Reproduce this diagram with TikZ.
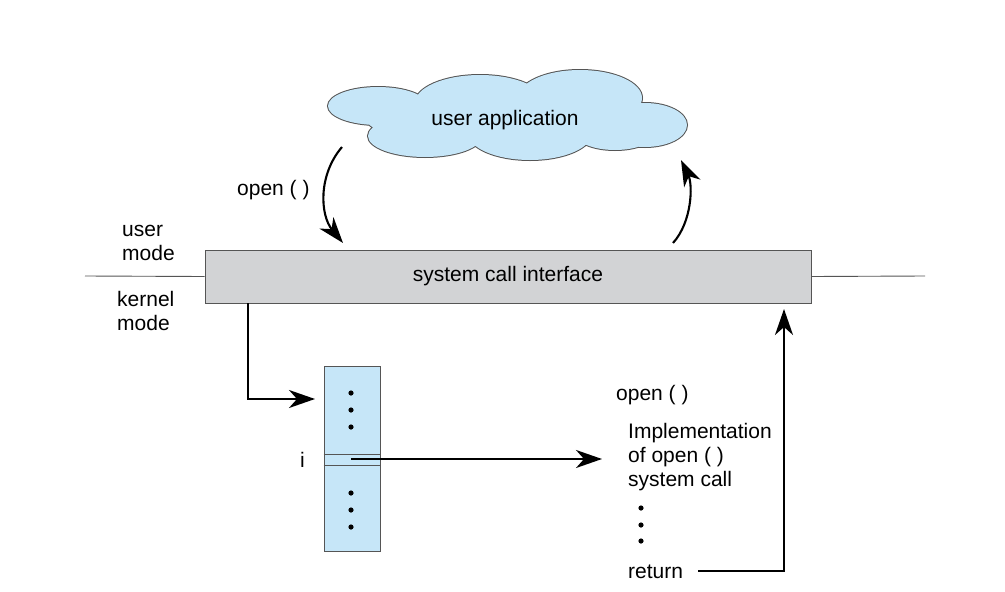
\documentclass[tikz,border=0pt]{standalone}
\usepackage{fontspec}
\setmainfont{Liberation Sans}
\usetikzlibrary{arrows.meta}
\definecolor{cloudblue}{HTML}{C6E6F8}
\definecolor{boxgray}{HTML}{D2D3D5}
\definecolor{edgegray}{HTML}{555555}
\begin{document}
\begin{tikzpicture}[x=1pt,y=-1pt,
  font=\fontsize{21}{24}\selectfont,
  arr/.style={-{Stealth[length=26pt,width=18pt,inset=8pt]}, line width=2.1pt},
  hline/.style={line width=0.9pt, draw=edgegray},
  lbl/.style={inner sep=0pt, anchor=base west, align=left},
  dotc/.style={fill=black}]
\useasboundingbox[fill=white] (0,0) rectangle (1005,592);

% cloud: outline of a union of ellipses
\def\cloudpath{
  (378,106) ellipse [x radius=50, y radius=19]
  (480,103) ellipse [x radius=65, y radius=28]
  (580,98) ellipse [x radius=62, y radius=28]
  (645,125) ellipse [x radius=42, y radius=22]
  (425,136) ellipse [x radius=57, y radius=21]
  (530,133) ellipse [x radius=62, y radius=27]
  (615,133) ellipse [x radius=40, y radius=17]
  (505,118) ellipse [x radius=140, y radius=28]
}
\draw[line width=2pt, draw=edgegray] \cloudpath;
\fill[cloudblue] \cloudpath;
\node[inner sep=0pt, anchor=base] (ua) at (505,125) {user application};

% system call interface
\node[draw=edgegray, line width=0.9pt, fill=boxgray, minimum width=606pt,
      minimum height=53pt, inner sep=0pt] (sci) at (508,276.5) {system call interface};
\coordinate (hl) at (85,276);
\coordinate (hr) at (925,276);
\draw[hline] (hl) -- (sci.west);
\draw[hline] (sci.east) -- (hr);

% mode labels (base = last line)
\node[lbl] (um) at (122,260) {user\\mode};
\node[lbl] (km) at (117,330) {kernel\\mode};

% open() call and return arrows
\node[lbl] (op1) at (237,195) {open ( )};
\coordinate (ca) at (342,147);
\coordinate (cb) at (343,243);
\draw[arr] (ca) .. controls (318,175) and (320,215) .. (cb);
\coordinate (ra) at (673,243);
\coordinate (rb) at (681,160);
\draw[arr] (ra) .. controls (692,222) and (693,185) .. (rb);

% table
\node[draw=edgegray, line width=0.9pt, fill=cloudblue, minimum width=56pt,
      minimum height=185pt, inner sep=0pt] (tab) at (352,458.5) {};
\draw[hline] (tab.west |- 0,454) -- (tab.east |- 0,454);
\draw[hline] (tab.west |- 0,465) -- (tab.east |- 0,465);
\foreach \yy in {393,410,427,493,510,527} \fill[dotc] (351,\yy) circle (2.6);
\node[lbl] (ilbl) at (300,467) {i};

\coordinate (k0) at (248,303);
\coordinate (k1) at (315,399);
\draw[arr] (k0) |- (k1);

\coordinate (iS) at (351,459);
\coordinate (iE) at (602,459);
\draw[arr] (iS) -- (iE);

% implementation text
\node[lbl] (op2) at (616,400) {open ( )};
\node[lbl] (impl) at (628,486) {Implementation\\of open ( )\\system call};
\foreach \yy in {508,525,541} \fill[dotc] (641,\yy) circle (2.6);
\node[lbl] (ret) at (628,578) {return};
\coordinate (rtop) at (784,309);
\draw[arr] ([xshift=15pt]ret.east) -| (rtop);
\end{tikzpicture}
\end{document}
